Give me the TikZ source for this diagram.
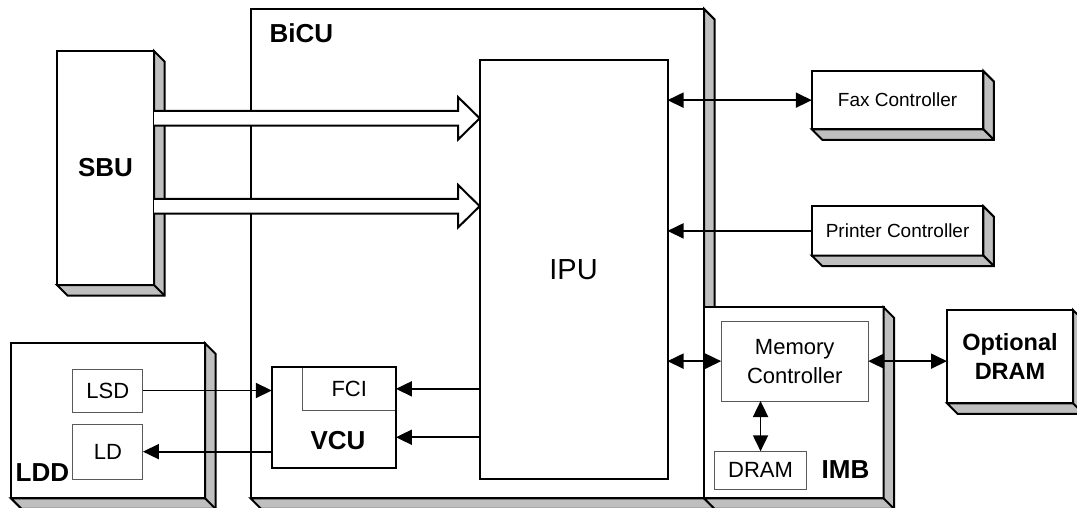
\documentclass[tikz,border=0pt]{standalone}
\usepackage{fontspec}
\setmainfont{Liberation Sans}
\usetikzlibrary{arrows.meta,calc}

\tikzset{
  unit/.style={draw, line width=2pt, fill=white, inner sep=0pt, outer sep=0pt},
  part/.style={draw=black!65, line width=1pt, fill=white, inner sep=0pt, outer sep=0pt},
  side/.style={draw, line width=2pt, fill=gray!50},
  bus/.style={draw, line width=2pt, fill=white},
  link/.style={line width=1.8pt},
  boldtext/.style={font=\fontsize{26}{30}\selectfont\bfseries, inner sep=0pt},
  ctrltext/.style={font=\fontsize{19}{23}\selectfont},
  parttext/.style={font=\fontsize{22}{29}\selectfont},
}

% 3D side and bottom face of a box
\newcommand\extrude[1]{%
  \filldraw[side] (#1.north east) -- ++(10.5pt,-10.5pt)
    -- ($(#1.south east)+(10.5pt,-10.5pt)$) -- ($(#1.south west)+(10.5pt,-10.5pt)$)
    -- (#1.south west) -- (#1.south east) -- cycle;
  \draw[side] (#1.south east) -- ++(10.5pt,-10.5pt);}

% hollow bus arrow
\newcommand\busarrow[2]{%
  \filldraw[bus] ([yshift=7.3pt]#1) -- ([shift={(-21.7pt,7.3pt)}]#2)
    -- ([shift={(-21.7pt,21.3pt)}]#2) -- (#2) -- ([shift={(-21.7pt,-21.3pt)}]#2)
    -- ([shift={(-21.7pt,-7.3pt)}]#2) -- ([yshift=-7.3pt]#1);}

\begin{document}
\begin{tikzpicture}[x=1pt, y=-1pt, >={Triangle[length=16pt,width=15pt]}]
  \useasboundingbox (0,0) rectangle (1077,508);

  % BiCU board
  \node[unit, minimum width=453.5pt, minimum height=489.3pt] (bicu) at (477.35,253.65) {};
  \extrude{bicu}
  \node[boldtext] (bicutxt) at (301.5,33.5) {BiCU};
  \node[unit, minimum width=187.8pt, minimum height=418.7pt,
        font=\fontsize{29}{32}\selectfont] (ipu) at (573.6,269.35) {IPU};

  % SBU
  \node[unit, minimum width=97pt, minimum height=234pt, boldtext] (sbu) at (105.5,168) {SBU};
  \extrude{sbu}
  \coordinate (bus1) at ([yshift=49.7pt]sbu.east);
  \coordinate (bus2) at ([yshift=-38.2pt]sbu.east);
  \coordinate (bus1end) at (bus1 -| ipu.west);
  \coordinate (bus2end) at (bus2 -| ipu.west);
  \busarrow{bus1}{bus1end}
  \busarrow{bus2}{bus2end}

  % controllers
  \node[unit, minimum width=171.6pt, minimum height=58.3pt, ctrltext] (fax) at (897.6,100.15) {Fax Controller};
  \extrude{fax}
  \node[unit, minimum width=171.6pt, minimum height=49.2pt, ctrltext] (prn) at (897.6,230.9) {Printer Controller};
  \extrude{prn}

  % IMB
  \node[unit, minimum width=179.6pt, minimum height=191pt] (imb) at (793.8,402.8) {};
  \extrude{imb}
  \node[part, minimum width=147pt, minimum height=79.7pt, parttext, align=center] (memctrl) at (794.7,361.15) {Memory\\Controller};
  \node[part, minimum width=92.3pt, minimum height=38pt, parttext] (dram) at (760.55,470.3) {DRAM};
  \node[boldtext] (imbtxt) at (845.5,469.7) {IMB};

  \node[unit, minimum width=126pt, minimum height=93.3pt, align=center,
        font=\fontsize{23.5}{29}\selectfont\bfseries] (optdram) at (1010,356.65) {Optional\\DRAM};
  \extrude{optdram}

  % LDD
  \node[unit, minimum width=194.2pt, minimum height=155pt] (ldd) at (108,420.8) {};
  \extrude{ldd}
  \node[part, minimum width=70.1pt, minimum height=43pt, parttext] (lsd) at (107.85,390.5) {LSD};
  \node[part, minimum width=70.1pt, minimum height=55.3pt, parttext] (ld) at (107.85,451.65) {LD};
  \node[boldtext] (lddtxt) at (42.4,472.8) {LDD};

  % VCU
  \node[part, minimum width=93.3pt, minimum height=43.7pt, parttext] (fci) at (349.25,388.85) {FCI};
  \node[draw, line width=2pt, inner sep=0pt, outer sep=0pt,
        minimum width=124.1pt, minimum height=101.3pt] (vcu) at (333.85,417.65) {};
  \node[boldtext] (vcutxt) at (338,440.8) {VCU};
  \coordinate (vcuin) at ([yshift=-19.6pt]vcu.east);

  % connections
  \draw[link, <->] (fax.west -| ipu.east) -- (fax.west);
  \draw[link, ->] (prn.west) -- (prn.west -| ipu.east);
  \draw[link, <->] (memctrl.west -| ipu.east) -- (memctrl.west);
  \draw[link, <->] (memctrl.east) -- (memctrl.east -| optdram.west);
  \draw[link, <->] (memctrl.south -| dram.north) -- (dram.north);
  \draw[link, ->] (lsd.east) -- (lsd.east -| vcu.west);
  \draw[link, ->] (ld.east -| vcu.west) -- (ld.east);
  \draw[link, ->] (fci.east -| ipu.west) -- (fci.east);
  \draw[link, ->] (vcuin -| ipu.west) -- (vcuin);
\end{tikzpicture}
\end{document}
